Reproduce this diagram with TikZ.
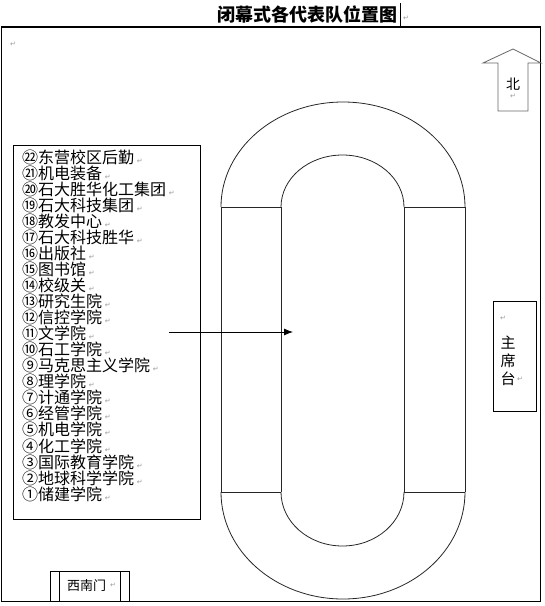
\documentclass[tikz,border=0pt]{standalone}
\usepackage{fontspec}
\setmainfont{Noto Sans CJK SC}
\newfontfamily\retfont{DejaVu Sans}
\usetikzlibrary{arrows.meta}

\tikzset{
  retmark/.style={font=\retfont\fontsize{7}{7}\selectfont, text=black!40},
  lane/.style={line width=0.8pt, black!85},
  item/.style={anchor=west, font=\fontsize{16}{16}\selectfont}
}
\newcommand{\ret}{{\retfont\fontsize{7}{7}\selectfont\color{black!40}↵}}

\begin{document}
\begin{tikzpicture}[x=1pt, y=-1pt, every node/.style={inner sep=0pt}]
  \useasboundingbox (0,0) rectangle (545,606);

  % Title
  \node[font=\bfseries\fontsize{18}{18}\selectfont] (title) at (307,15) {闭幕式各代表队位置图};
  \draw[line width=1.8pt] (400.5,3) -- (400.5,28);
  \node[retmark] at (406,18) {↵};

  % Field frame
  \draw[line width=1.2pt] (1.5,27) rectangle (540.5,601.5);
  \node[retmark] at (13,44) {↵};

  % Track
  \draw[lane] (221,207) -- (281,207) (404,207) -- (465,207);
  \draw[lane] (221,492) -- (281,492) (404,492) -- (465,492);
  \draw[lane] (221,207) -- (221,492) (281,207) -- (281,492)
              (404,207) -- (404,492) (465,207) -- (465,492);
  \draw[lane] (221,207) arc[start angle=180, end angle=0, x radius=122pt, y radius=105pt];
  \draw[lane] (281,207) arc[start angle=180, end angle=0, x radius=61.5pt, y radius=52pt];
  \draw[lane] (221,492) arc[start angle=180, end angle=360, x radius=122pt, y radius=107pt];
  \draw[lane] (281,492) arc[start angle=180, end angle=360, x radius=61.5pt, y radius=54pt];

  % North arrow
  \draw[line width=0.8pt, black!60] (498,111) -- (498,63) -- (483,63) -- (513,49)
        -- (541,63) -- (528,63) -- (528,111) -- cycle;
  \node[font=\fontsize{14}{14}\selectfont] (north) at (513,84) {北};
  \node[retmark] at (513,96) {↵};

  % Legend
  \draw[line width=0.8pt] (13.5,145) rectangle (200.5,519);
  \foreach \n/\t [count=\i from 0] in {㉒/东营校区后勤, ㉑/机电装备, ⑳/石大胜华化工集团,
      ⑲/石大科技集团, ⑱/教发中心, ⑰/石大科技胜华, ⑯/出版社, ⑮/图书馆, ⑭/校级关,
      ⑬/研究生院, ⑫/信控学院, ⑪/文学院, ⑩/石工学院, ⑨/马克思主义学院, ⑧/理学院,
      ⑦/计通学院, ⑥/经管学院, ⑤/机电学院, ④/化工学院, ③/国际教育学院,
      ②/地球科学学院, ①/储建学院}
    \node[item] (item\i) at (22,{157+16.05*\i}) {\n\t\,\ret};

  % Arrow to the track
  \coordinate (from) at (169,332);
  \coordinate (to) at (293,332);
  \draw[-{Latex[length=9pt,width=7pt]}, line width=0.8pt] (from) -- (to);

  % Rostrum
  \draw[line width=0.8pt] (493.5,301) rectangle (536.5,411);
  \node[retmark] at (503,318) {↵};
  \node[font=\fontsize{15}{18}\selectfont, align=center] (stage) at (508,361) {主\\席\\台};
  \node[retmark] at (520,379) {↵};

  % South-west gate
  \draw[line width=0.8pt] (50,601.5) -- (50,571) -- (129.5,571) -- (129.5,601.5);
  \draw[line width=0.8pt] (59.5,571) -- (59.5,601.5) (120,571) -- (120,601.5);
  \node[font=\fontsize{13}{13}\selectfont] (gate) at (86.5,586) {西南门};
  \node[retmark] at (113,585) {↵};
\end{tikzpicture}
\end{document}
